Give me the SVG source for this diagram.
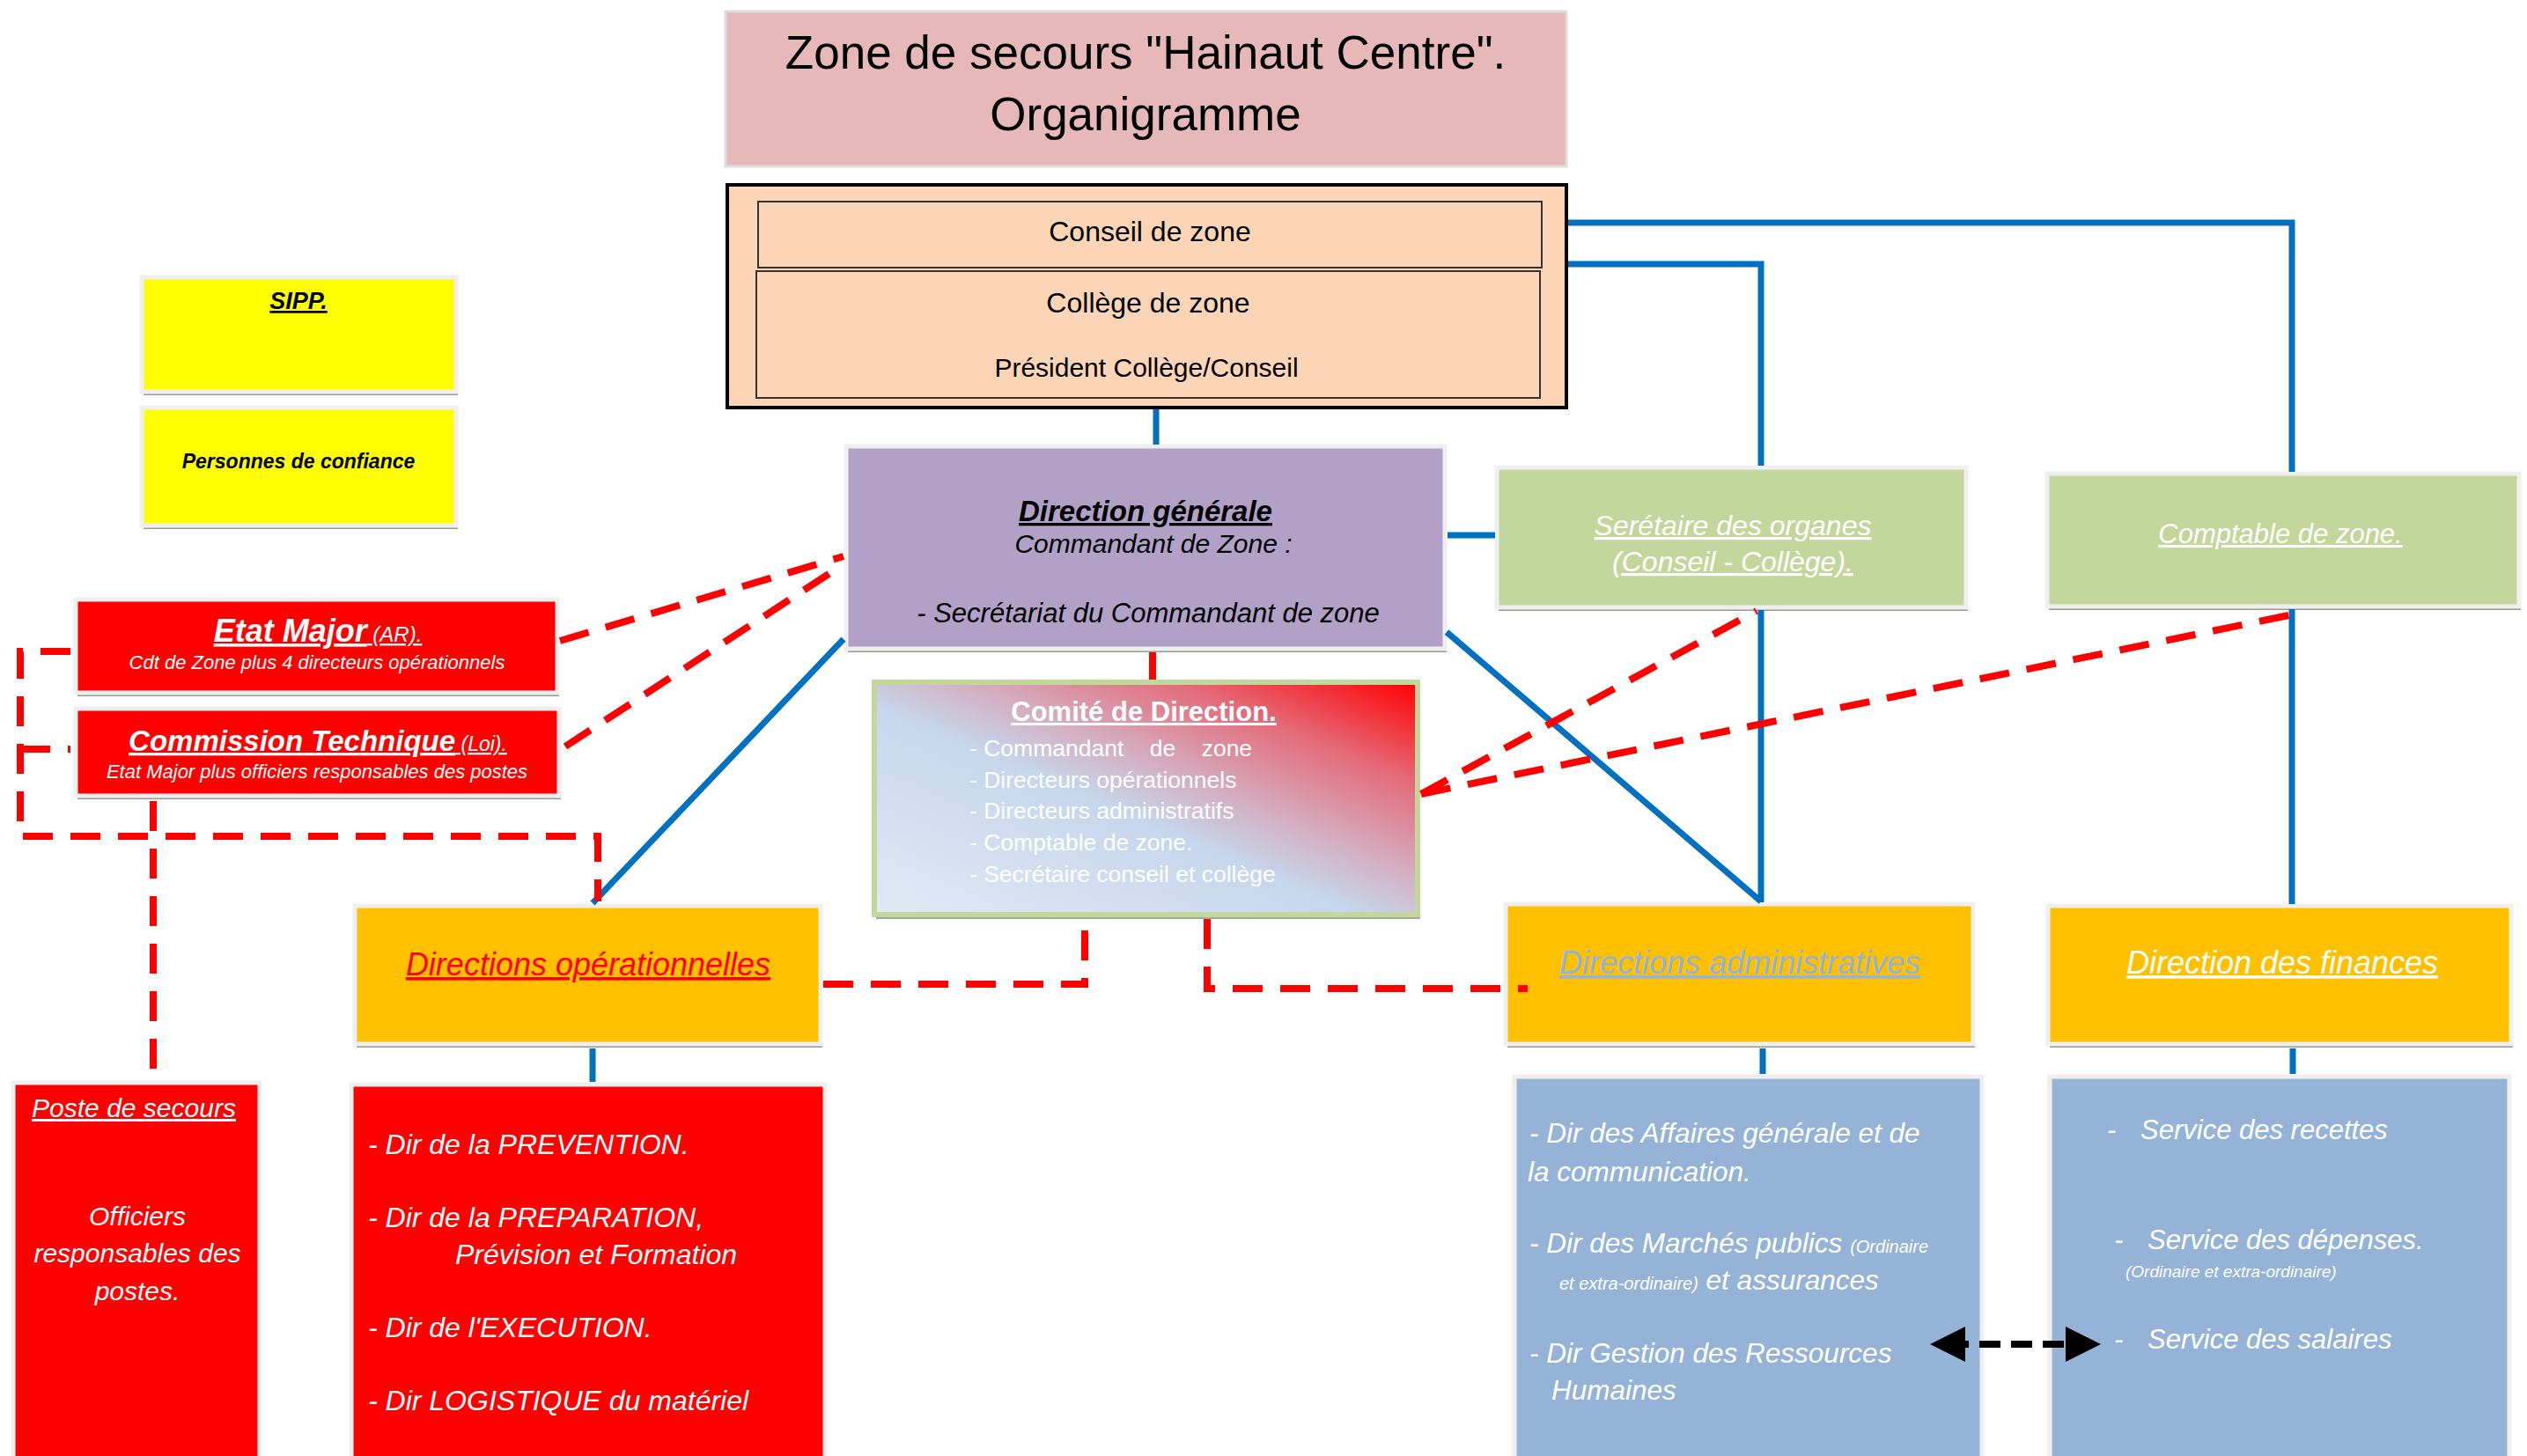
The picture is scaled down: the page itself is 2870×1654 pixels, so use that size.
<svg xmlns="http://www.w3.org/2000/svg" width="2870" height="1654" viewBox="0 0 2870 1654">
<defs>
<style>
text{font-family:"Liberation Sans","DejaVu Sans",sans-serif;}
.w{fill:#ffffff}
.k{fill:#000000}
.it{font-style:italic}
.b{font-weight:bold}
.u{text-decoration:underline}
.mid{text-anchor:middle}
.box{stroke:#EFEFEF;stroke-width:5}
.sh{fill:#9A9A8E}
.blue{fill:none;stroke:#0070C0;stroke-width:7}
.red{fill:none;stroke:#FF0000;stroke-width:8;stroke-dasharray:34 20}
</style>
<linearGradient id="gcom" x1="0" y1="1" x2="1" y2="0">
<stop offset="0" stop-color="#E2E9F5"/>
<stop offset="0.45" stop-color="#C6D6EC"/>
<stop offset="0.58" stop-color="#D4AFC2"/>
<stop offset="0.78" stop-color="#E46A78"/>
<stop offset="1" stop-color="#FF0000"/>
</linearGradient>
<marker id="ah" viewBox="0 0 10 10" refX="5" refY="5" markerWidth="5" markerHeight="5" orient="auto-start-reverse" markerUnits="strokeWidth">
<path d="M0,0 L10,5 L0,10 z" fill="#000"/>
</marker>
</defs>
<rect x="0" y="0" width="2870" height="1654" fill="#ffffff"/>

<g id="title">
<rect x="824" y="13" width="955" height="176" fill="#E6B9B8" stroke="#DDDDDD" stroke-width="3"/>
<text x="1301" y="78" class="k mid" font-size="53">Zone de secours "Hainaut Centre".</text>
<text x="1301" y="148" class="k mid" font-size="53">Organigramme</text>
</g>

<g id="conseil">
<rect x="826" y="210" width="953" height="253" fill="#FBD5B5" stroke="#000" stroke-width="4"/>
<rect x="861" y="229" width="890" height="75" fill="#FBD5B5" stroke="#333" stroke-width="2"/>
<rect x="859" y="308" width="890" height="144" fill="#FBD5B5" stroke="#333" stroke-width="2"/>
<text x="1306" y="274" class="k mid" font-size="32">Conseil de zone</text>
<text x="1304" y="355" class="k mid" font-size="32">Collège de zone</text>
<text x="1302" y="428" class="k mid" font-size="30">Président Collège/Conseil</text>
</g>

<g id="sipp">
<rect x="163" y="319" width="357" height="130" class="sh"/>
<rect x="161" y="315" width="357" height="130" fill="#FFFF00" class="box"/>
<text x="339" y="351" class="k mid it b u" font-size="27">SIPP.</text>
</g>

<g id="confiance">
<rect x="163" y="467" width="357" height="134" class="sh"/>
<rect x="161" y="463" width="357" height="134" fill="#FFFF00" class="box"/>
<text x="339" y="532" class="k mid it b" font-size="23">Personnes de confiance</text>
</g>

<g id="etat-major">
<rect x="88" y="685" width="547" height="106" class="sh"/>
<rect x="86" y="681" width="547" height="106" fill="#FF0000" class="box"/>
<text x="361" y="729" class="w mid it u" font-size="36"><tspan class="b">Etat Major</tspan><tspan font-size="24"> (AR).</tspan></text>
<text x="360" y="760" class="w mid it" font-size="22">Cdt de Zone plus 4 directeurs opérationnels</text>
</g>

<g id="commission">
<rect x="88" y="809" width="549" height="99" class="sh"/>
<rect x="86" y="805" width="549" height="99" fill="#FF0000" class="box"/>
<text x="361" y="853" class="w mid it u" font-size="33"><tspan class="b">Commission Technique</tspan><tspan font-size="23"> (Loi).</tspan></text>
<text x="360" y="884" class="w mid it" font-size="22">Etat Major plus officiers responsables des postes</text>
</g>

<g id="direction-generale">
<rect x="963" y="511" width="680" height="230" class="sh"/>
<rect x="961" y="507" width="680" height="230" fill="#B2A1C7" class="box"/>
<text x="1301" y="592" class="k mid it b u" font-size="33">Direction générale</text>
<text x="1310" y="628" class="k mid it" font-size="30">Commandant de Zone :</text>
<text x="1304" y="707" class="k mid it" font-size="31">- Secrétariat du Commandant de zone</text>
</g>

<g id="comite">
<rect x="995" y="779" width="618" height="265" fill="#A8A89A"/>
<rect x="993" y="775" width="617" height="264" fill="url(#gcom)" stroke="#C3D69B" stroke-width="6"/>
<text x="1299" y="819" class="w mid b u" font-size="31">Comité de Direction.</text>
<g class="w" font-size="26.5">
<text x="1101" y="859" xml:space="preserve">- Commandant    de    zone</text>
<text x="1101" y="895">- Directeurs opérationnels</text>
<text x="1101" y="930">- Directeurs administratifs</text>
<text x="1101" y="966">- Comptable de zone.</text>
<text x="1101" y="1002">- Secrétaire conseil et collège</text>
</g>
</g>

<g id="secretaire">
<rect x="1702" y="535" width="533" height="159" class="sh"/>
<rect x="1700" y="531" width="533" height="159" fill="#C3D69B" class="box"/>
<text x="1968" y="608" class="w mid it u" font-size="32">Serétaire des organes</text>
<text x="1968" y="649" class="w mid it u" font-size="32">(Conseil - Collège).</text>
</g>

<g id="comptable">
<rect x="2327" y="542" width="536" height="151" class="sh"/>
<rect x="2325" y="538" width="536" height="151" fill="#C3D69B" class="box"/>
<text x="2590" y="617" class="w mid it u" font-size="31">Comptable de zone.</text>
</g>

<g id="dir-operationnelles">
<rect x="405" y="1033" width="529" height="157" class="sh"/>
<rect x="403" y="1029" width="529" height="157" fill="#FFC000" class="box"/>
<text x="668" y="1108" class="mid it u" fill="#FF0000" font-size="36">Directions opérationnelles</text>
</g>

<g id="dir-administratives">
<rect x="1712" y="1031" width="531" height="159" class="sh"/>
<rect x="1710" y="1027" width="531" height="159" fill="#FFC000" class="box"/>
<text x="1976" y="1106" class="mid it u" fill="#8EB4E3" font-size="36">Directions administratives</text>
</g>

<g id="dir-finances">
<rect x="2328" y="1033" width="526" height="157" class="sh"/>
<rect x="2326" y="1029" width="526" height="157" fill="#FFC000" class="box"/>
<text x="2592" y="1106" class="w mid it u" font-size="36">Direction des finances</text>
</g>

<g id="poste-secours">
<rect x="15" y="1230" width="280" height="430" fill="#FF0000" class="box"/>
<text x="152" y="1269" class="w mid it u" font-size="30">Poste de secours</text>
<text x="156" y="1392" class="w mid it" font-size="30">Officiers</text>
<text x="156" y="1434" class="w mid it" font-size="30">responsables des</text>
<text x="156" y="1477" class="w mid it" font-size="30">postes.</text>
</g>

<g id="liste-operationnelles">
<rect x="399" y="1232" width="538" height="430" fill="#FF0000" class="box"/>
<g class="w it" font-size="32">
<text x="418" y="1311">- Dir de la PREVENTION.</text>
<text x="418" y="1394">- Dir de la PREPARATION,</text>
<text x="517" y="1436">Prévision et Formation</text>
<text x="418" y="1519">- Dir de l'EXECUTION.</text>
<text x="418" y="1602">- Dir LOGISTIQUE du matériel</text>
</g>
</g>

<g id="liste-administratives">
<rect x="1720" y="1223" width="531" height="440" fill="#95B3D7" class="box"/>
<g class="w it" font-size="31.5">
<text x="1737" y="1298">- Dir des Affaires générale et de</text>
<text x="1735" y="1342">la communication.</text>
<text x="1737" y="1423">- Dir des Marchés publics <tspan font-size="20">(Ordinaire</tspan></text>
<text x="1771" y="1465"><tspan font-size="20">et extra-ordinaire)</tspan> et assurances</text>
<text x="1737" y="1548">- Dir Gestion des Ressources</text>
<text x="1762" y="1590">Humaines</text>
</g>
</g>

<g id="liste-finances">
<rect x="2328" y="1223" width="522" height="440" fill="#95B3D7" class="box"/>
<g class="w it" font-size="31">
<text x="2393" y="1294">-</text>
<text x="2431" y="1294">Service des recettes</text>
<text x="2401" y="1419">-</text>
<text x="2439" y="1419">Service des dépenses.</text>
<text x="2414" y="1451" font-size="19">(Ordinaire et extra-ordinaire)</text>
<text x="2401" y="1532">-</text>
<text x="2439" y="1532">Service des salaires</text>
</g>
</g>

<g id="connectors">
<path class="blue" d="M1313,465 L1313,505"/>
<path class="blue" d="M1644,608 L1698,608"/>
<path class="blue" d="M1781,253 L2603,253 L2603,536"/>
<path class="blue" d="M1781,300 L2000,300 L2000,529"/>
<path class="blue" d="M2000,693 L2000,1025"/>
<path class="blue" d="M2603,692 L2603,1027"/>
<path class="blue" d="M1643,718 L2000,1024"/>
<path class="blue" d="M958,726 L673,1026"/>
<path class="blue" d="M673,1191 L673,1229"/>
<path class="blue" d="M2002,1191 L2002,1220"/>
<path class="blue" d="M2604,1191 L2604,1220"/>
<path class="red" d="M636,728 L958,632"/>
<path class="red" d="M642,848 L958,641"/>
<path class="red" d="M80,740 L23,740 L23,950 L679,950 L679,1024"/>
<path class="red" d="M23,851 L80,851"/>
<path class="red" d="M174,910 L174,1228"/>
<path class="red" d="M1309,741 L1309,772"/>
<path class="red" d="M935,1118 L1232,1118 L1232,1044"/>
<path class="red" d="M1371,1044 L1371,1123 L1735,1123"/>
<path class="red" d="M1614,902 L1995,694"/>
<path class="red" d="M1614,902 L2604,698"/>
<path d="M2212,1527 L2366,1527" fill="none" stroke="#000" stroke-width="8" stroke-dasharray="24 12" marker-start="url(#ah)" marker-end="url(#ah)"/>
</g>
</svg>
